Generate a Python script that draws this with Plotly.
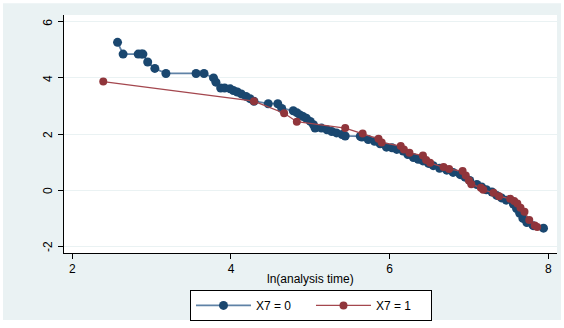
import plotly.graph_objects as go

# log(-log S(t)) against ln(analysis time), by group X7
x7_0_lnt = [2.57, 2.64, 2.83, 2.87, 2.89, 2.95, 3.04, 3.18, 3.56, 3.66, 3.78, 3.81,
            3.87, 3.92, 3.99, 4.03, 4.08, 4.13, 4.19, 4.24, 4.29, 4.47, 4.59, 4.64,
            4.785, 4.83, 4.87, 4.91, 4.95, 5.00, 5.04, 5.06, 5.14, 5.21, 5.27, 5.33,
            5.40, 5.44, 5.63, 5.65, 5.73, 5.81, 5.88, 5.96, 6.03, 6.09, 6.17, 6.23,
            6.30, 6.36, 6.42, 6.49, 6.55, 6.63, 6.72, 6.80, 6.89, 6.95, 7.01, 7.10,
            7.16, 7.22, 7.29, 7.35, 7.41, 7.47, 7.56, 7.60, 7.64, 7.68, 7.73, 7.81,
            7.94]
x7_0_lls = [5.27, 4.85, 4.85, 4.85, 4.85, 4.57, 4.34, 4.16, 4.16, 4.16, 4.00, 3.85,
            3.64, 3.64, 3.61, 3.55, 3.50, 3.43, 3.34, 3.26, 3.17, 3.08, 3.08, 2.91,
            2.83, 2.76, 2.68, 2.62, 2.56, 2.45, 2.33, 2.21, 2.21, 2.15, 2.09, 2.04,
            1.98, 1.93, 1.92, 1.89, 1.80, 1.74, 1.65, 1.53, 1.51, 1.45, 1.39, 1.27,
            1.16, 1.10, 1.04, 0.95, 0.87, 0.78, 0.71, 0.63, 0.55, 0.46, 0.34, 0.20,
            0.11, 0.01, -0.07, -0.19, -0.28, -0.36, -0.50, -0.66, -0.83, -1.01, -1.16, -1.27,
            -1.36]

x7_1_lnt = [2.39, 4.29, 4.67, 4.83, 5.44, 5.66, 5.86, 5.90, 6.14, 6.18, 6.25, 6.42,
            6.46, 6.51, 6.68, 6.75, 6.92, 6.96, 7.00, 7.03, 7.15, 7.18, 7.31, 7.38,
            7.52, 7.57, 7.61, 7.65, 7.70, 7.76, 7.83, 7.86]
x7_1_lls = [3.87, 3.17, 2.74, 2.44, 2.21, 2.02, 1.83, 1.70, 1.57, 1.45, 1.33, 1.23,
            1.07, 0.97, 0.82, 0.75, 0.68, 0.52, 0.34, 0.21, 0.08, 0.01, -0.10, -0.22,
            -0.31, -0.39, -0.48, -0.63, -0.77, -1.07, -1.26, -1.32]

x_ticks = [2, 4, 6, 8]
y_ticks = [-2, 0, 2, 4, 6]
y_tick_text = ["-2", "0", "2", "4", "6"]
x_title = "ln(analysis time)"

NAVY = "#1A476F"
MAROON = "#90353B"
FRAME = "#EAF2F3"

fig = go.Figure()
fig.add_trace(go.Scatter(
    x=x7_0_lnt, y=x7_0_lls, mode="lines+markers", name="X7 = 0",
    line=dict(color="#5F82A6", width=1.8),
    marker=dict(color=NAVY, size=9),
))
fig.add_trace(go.Scatter(
    x=x7_1_lnt, y=x7_1_lls, mode="lines+markers", name="X7 = 1",
    line=dict(color="#A4474E", width=1.3),
    marker=dict(color=MAROON, size=8),
))

# Stata-style outer frame and white plot region
fig.add_shape(type="rect", xref="paper", yref="paper",
              x0=-0.1237, x1=1.0081, y0=-0.281, y1=1.0496,
              fillcolor=FRAME, line=dict(width=0), layer="below")
fig.add_shape(type="rect", xref="paper", yref="paper",
              x0=0, x1=1, y0=0, y1=1,
              fillcolor="white", line=dict(width=0), layer="below")

# vertical y tick labels, Stata style
for v, t in zip(y_ticks, y_tick_text):
    fig.add_annotation(x=-0.0325, xref="paper", y=v, yref="y", text=t,
                       textangle=-90, showarrow=False, xanchor="center",
                       yanchor="middle", font=dict(size=12, color="black"))

# x axis title
fig.add_annotation(x=0.5, xref="paper", y=-0.1074, yref="paper", text=x_title,
                   showarrow=False, xanchor="center", yanchor="middle",
                   font=dict(size=12, color="black"))

font_family = "Liberation Sans, Arial, sans-serif"

fig.update_layout(
    width=564, height=328,
    margin=dict(l=64, r=7, t=15, b=71),
    paper_bgcolor="white", plot_bgcolor="white",
    font=dict(family=font_family, size=12, color="black"),
    showlegend=True,
    legend=dict(
        orientation="h", x=0.501, xanchor="center", y=-0.155, yanchor="top",
        bgcolor="white", bordercolor="black", borderwidth=1,
        font=dict(size=12), itemwidth=55, tracegroupgap=0,
        entrywidth=50, entrywidthmode="pixels",
    ),
    xaxis=dict(
        range=[1.895, 8.11], tickvals=x_ticks,
        showgrid=False, zeroline=False,
        showline=True, linecolor="black", linewidth=1,
        ticks="outside", ticklen=5, tickcolor="black",
        tickfont=dict(size=12),
        automargin=False,
    ),
    yaxis=dict(
        range=[-2.245, 6.245], tickvals=y_ticks, showticklabels=False,
        showgrid=True, gridcolor=FRAME, gridwidth=1, zeroline=False,
        showline=True, linecolor="black", linewidth=1,
        ticks="outside", ticklen=5, tickcolor="black",
        automargin=False,
    ),
)

fig.write_html("out.html")
